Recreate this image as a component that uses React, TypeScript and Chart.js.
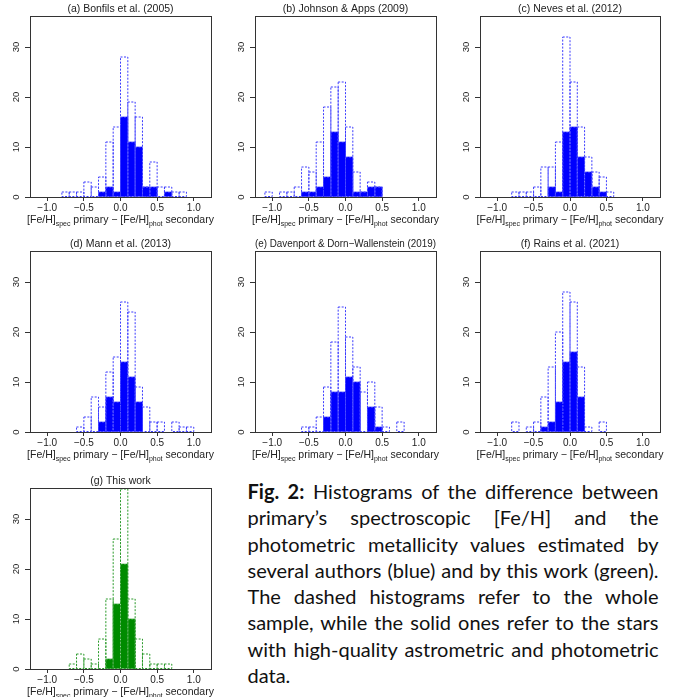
import React, { useEffect, useRef } from "react";
import { Chart, registerables } from "chart.js";

Chart.register(...registerables);

// Histogram bins: width 0.1 from -1.2 to 1.2 (bin centres)
const binCenters = [
  -1.15, -1.05, -0.95, -0.85, -0.75, -0.65, -0.55, -0.45, -0.35, -0.25, -0.15, -0.05,
  0.05, 0.15, 0.25, 0.35, 0.45, 0.55, 0.65, 0.75, 0.85, 0.95, 1.05, 1.15,
];
const xTickValues = [-1.0, -0.5, 0.0, 0.5, 1.0];
const yTickValues = [0, 10, 20, 30];

const panelTitles = [
  "(a) Bonfils et al. (2005)",
  "(b) Johnson & Apps (2009)",
  "(c) Neves et al. (2012)",
  "(d) Mann et al. (2013)",
  "(e) Davenport & Dorn\u2212Wallenstein (2019)",
  "(f) Rains et al. (2021)",
  "(g) This work",
];

// whole sample (dashed) and high-quality sample (solid)
const bonfilsAll = [0, 0, 0, 0, 1, 1, 1, 3, 2, 4, 11, 14, 28, 19, 16, 2, 7, 2, 2, 1, 1, 0, 0, 0];
const bonfilsGood = [0, 0, 0, 0, 0, 0, 0, 0, 0, 1, 2, 1, 16, 11, 10, 2, 2, 0, 1, 0, 0, 0, 0, 0];
const johnsonAll = [0, 1, 0, 1, 1, 2, 6, 5, 11, 18, 22, 23, 14, 5, 1, 3, 2, 0, 0, 0, 0, 0, 0, 0];
const johnsonGood = [0, 0, 0, 0, 0, 0, 1, 1, 2, 4, 13, 11, 8, 1, 1, 2, 2, 0, 0, 0, 0, 0, 0, 0];
const nevesAll = [0, 0, 0, 0, 1, 1, 1, 2, 6, 6, 11, 32, 23, 14, 8, 5, 4, 1, 0, 0, 0, 0, 0, 0];
const nevesGood = [0, 0, 0, 0, 0, 0, 0, 0, 0, 2, 1, 13, 14, 8, 5, 2, 1, 0, 0, 0, 0, 0, 0, 0];
const mannAll = [0, 0, 0, 0, 0, 0, 1, 3, 7, 5, 12, 15, 26, 24, 9, 5, 2, 2, 0, 2, 1, 1, 0, 0];
const mannGood = [0, 0, 0, 0, 0, 0, 0, 0, 0, 2, 7, 6, 14, 11, 6, 0, 0, 0, 0, 0, 0, 0, 0, 0];
const davenportAll = [0, 0, 0, 0, 0, 0, 1, 1, 3, 9, 18, 25, 19, 13, 8, 10, 5, 1, 0, 2, 0, 0, 0, 0];
const davenportGood = [0, 0, 0, 0, 0, 0, 0, 0, 0, 3, 8, 8, 11, 10, 0, 5, 1, 0, 0, 0, 0, 0, 0, 0];
const rainsAll = [0, 0, 0, 0, 2, 0, 1, 2, 7, 13, 20, 28, 26, 13, 1, 0, 2, 0, 0, 0, 0, 0, 0, 0];
const rainsGood = [0, 0, 0, 0, 0, 0, 0, 0, 1, 2, 6, 14, 16, 7, 0, 0, 0, 0, 0, 0, 0, 0, 0, 0];
const thisWorkAll = [0, 0, 0, 0, 0, 1, 3, 2, 1, 6, 14, 26, 36, 14, 6, 3, 1, 1, 1, 0, 0, 0, 0, 0];
const thisWorkGood = [0, 0, 0, 0, 0, 0, 0, 0, 0, 0, 2, 13, 21, 10, 0, 0, 0, 0, 0, 0, 0, 0, 0, 0];

const BLUE = "#0000ff";
const BLUE_DASH = "#3c3cff";
const GREEN = "#008b00";
const GREEN_DASH = "#2a9a2a";

const captionLines = [
  "Histograms of the difference between",
  "primary\u2019s spectroscopic [Fe/H] and the",
  "photometric metallicity values estimated by",
  "several authors (blue) and by this work (green).",
  "The dashed histograms refer to the whole",
  "sample, while the solid ones refer to the stars",
  "with high-quality astrometric and photometric",
  "data.",
];

const FONT = '"Liberation Sans", Arial, Helvetica, sans-serif';

const fmtX = (v: number) => {
  const s = Math.abs(v).toFixed(1);
  return v < 0 ? "\u2212" + s : s;
};

const decorPlugin = {
  id: "histDecor",
  afterDatasetsDraw(chart: any) {
    const ctx = chart.ctx;
    chart.data.datasets.forEach((ds: any, di: number) => {
      const stroke = ds.outline || ds.seam;
      if (!stroke) return;
      const meta = chart.getDatasetMeta(di);
      ctx.save();
      ctx.strokeStyle = stroke;
      ctx.lineWidth = ds.outline ? 1 : 0.8;
      ctx.setLineDash([2, 1.5]);
      meta.data.forEach((el: any, i: number) => {
        const raw = ds.data[i];
        if (raw == null || raw.y == null) return;
        const p = el.getProps(["x", "y", "base", "width"], true);
        ctx.strokeRect(p.x - p.width / 2, p.y, p.width, p.base - p.y);
      });
      ctx.restore();
    });
  },
  afterDraw(chart: any) {
    const ctx = chart.ctx;
    const a = chart.chartArea;
    ctx.save();
    // frame
    ctx.strokeStyle = "#333";
    ctx.lineWidth = 1;
    ctx.setLineDash([]);
    ctx.strokeRect(Math.round(a.left) + 0.5, Math.round(a.top) + 0.5, Math.round(a.right - a.left), Math.round(a.bottom - a.top));
    // rotated y tick labels
    const ys = chart.scales.y;
    ctx.fillStyle = "#222";
    ctx.font = `9.5px ${FONT}`;
    ctx.textAlign = "center";
    ctx.textBaseline = "middle";
    ys.ticks.forEach((t: any) => {
      const y = ys.getPixelForValue(t.value);
      ctx.save();
      ctx.translate(a.left - 14, y);
      ctx.rotate(-Math.PI / 2);
      ctx.fillText(String(t.value), 0, 0);
      ctx.restore();
    });
    // x-axis title with subscripts
    const segs = [
      { t: "[Fe/H]", sub: false },
      { t: "spec", sub: true },
      { t: " primary \u2212 [Fe/H]", sub: false },
      { t: "phot", sub: true },
      { t: " secondary", sub: false },
    ];
    const mainF = `10.5px ${FONT}`;
    const subF = `7px ${FONT}`;
    let total = 0;
    segs.forEach((s) => {
      ctx.font = s.sub ? subF : mainF;
      total += ctx.measureText(s.t).width;
    });
    let x = (a.left + a.right) / 2 - total / 2;
    const base = a.bottom + 26;
    ctx.textAlign = "left";
    ctx.textBaseline = "alphabetic";
    segs.forEach((s) => {
      ctx.font = s.sub ? subF : mainF;
      ctx.fillText(s.t, x, s.sub ? base + 2.5 : base);
      x += ctx.measureText(s.t).width;
    });
    ctx.restore();
  },
};

type PanelProps = {
  title: string;
  all: number[];
  good: number[];
  color: string;
  dash: string;
  left: number;
  top: number;
  rightPad: number;
};

function Panel({ title, all, good, color, dash, left, top, rightPad }: PanelProps) {
  const ref = useRef<HTMLCanvasElement>(null);
  useEffect(() => {
    const chart = new Chart(ref.current as HTMLCanvasElement, {
      type: "bar",
      data: {
        datasets: [
          {
            data: binCenters.map((x, i) => ({ x, y: good[i] ? good[i] : null })),
            backgroundColor: color,
            borderWidth: 0,
            grouped: false,
            barPercentage: 1,
            categoryPercentage: 1,
            seam: "rgba(255,255,255,0.45)",
          } as any,
          {
            data: binCenters.map((x, i) => ({ x, y: all[i] ? all[i] : null })),
            backgroundColor: "rgba(0,0,0,0)",
            borderWidth: 0,
            grouped: false,
            barPercentage: 1,
            categoryPercentage: 1,
            outline: dash,
          } as any,
        ],
      },
      options: {
        animation: false,
        responsive: false,
        events: [],
        layout: { padding: { left: 0, right: rightPad, top: 0, bottom: 0 } },
        plugins: {
          legend: { display: false },
          tooltip: { enabled: false },
          title: {
            display: true,
            text: title,
            fullSize: false,
            color: "#222",
            font: { family: FONT, size: 10.5, weight: "normal" as any },
            padding: { top: 3, bottom: 0.4 },
          },
        },
        scales: {
          x: {
            type: "linear",
            min: -1.235,
            max: 1.235,
            offset: false,
            grid: {
              display: true,
              offset: false,
              drawOnChartArea: false,
              drawTicks: true,
              tickLength: 4,
              color: "#333",
            },
            border: { display: false },
            ticks: {
              font: { family: FONT, size: 10 },
              color: "#222",
              padding: 1,
              maxRotation: 0,
              autoSkip: false,
              callback: (v: any) => fmtX(Number(v)),
            },
            afterBuildTicks: (s: any) => {
              s.ticks = xTickValues.map((v) => ({ value: v }));
            },
            afterFit: (s: any) => {
              s.height = 39;
            },
          },
          y: {
            min: 0,
            max: 36.2,
            grid: {
              display: true,
              drawOnChartArea: false,
              drawTicks: true,
              tickLength: 5,
              color: "#333",
            },
            border: { display: false },
            ticks: { display: false },
            afterBuildTicks: (s: any) => {
              s.ticks = yTickValues.map((v) => ({ value: v }));
            },
            afterFit: (s: any) => {
              s.width = 30;
            },
          },
        },
      } as any,
      plugins: [decorPlugin as any],
    });
    return () => chart.destroy();
  }, []);
  return (
    <canvas
      ref={ref}
      width={225}
      height={236}
      style={{ position: "absolute", left, top, width: 225, height: 236 }}
    />
  );
}

export default function App() {
  const panels = [
    { all: bonfilsAll, good: bonfilsGood, color: BLUE, dash: BLUE_DASH, left: 0, top: 0, rightPad: 14 },
    { all: johnsonAll, good: johnsonGood, color: BLUE, dash: BLUE_DASH, left: 225, top: 0, rightPad: 14 },
    { all: nevesAll, good: nevesGood, color: BLUE, dash: BLUE_DASH, left: 450, top: 0, rightPad: 15 },
    { all: mannAll, good: mannGood, color: BLUE, dash: BLUE_DASH, left: 0, top: 235, rightPad: 14 },
    { all: davenportAll, good: davenportGood, color: BLUE, dash: BLUE_DASH, left: 225, top: 235, rightPad: 14 },
    { all: rainsAll, good: rainsGood, color: BLUE, dash: BLUE_DASH, left: 450, top: 235, rightPad: 15 },
    { all: thisWorkAll, good: thisWorkGood, color: GREEN, dash: GREEN_DASH, left: 0, top: 472, rightPad: 14 },
  ];
  return (
    <div
      style={{
        position: "absolute",
        left: 0,
        top: 0,
        width: 685,
        height: 697,
        background: "#fff",
        overflow: "hidden",
      }}
    >
      {panels.map((p, i) => (
        <Panel key={i} title={panelTitles[i]} {...p} />
      ))}
      <div
        style={{
          position: "absolute",
          left: 247.5,
          top: 478,
          width: 411,
          fontFamily: "Lato, 'Open Sans', sans-serif",
          fontSize: 20,
          lineHeight: "26.3px",
          color: "#111",
        }}
      >
        {captionLines.map((line, i) => (
          <div
            key={i}
            style={{
              textAlign: "justify",
              textAlignLast: i < captionLines.length - 1 ? "justify" : "left",
            } as any}
          >
            {i === 0 ? (
              <>
                <b>Fig. 2:</b> {line}
              </>
            ) : (
              line
            )}
          </div>
        ))}
      </div>
    </div>
  );
}
